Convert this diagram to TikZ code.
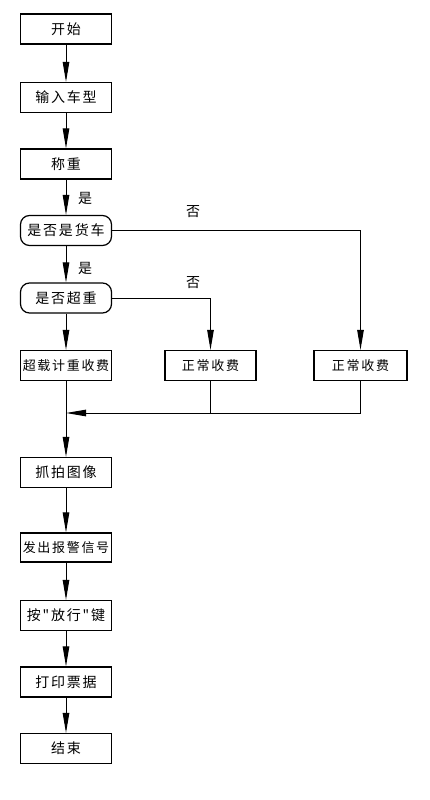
\documentclass[tikz,border=0pt]{standalone}
\usepackage{fontspec}
\newfontfamily\cjk[LetterSpace=13]{Noto Sans CJK SC}
\newfontfamily\cjkn{Noto Sans CJK SC}
\usetikzlibrary{arrows.meta}
\begin{document}
\begin{tikzpicture}[x=1pt,y=-1pt,
  box/.style={draw,line width=1.2pt,minimum width=91pt,minimum height=30pt,inner sep=0pt,font=\cjk\fontsize{14}{16}\selectfont},
  sbox/.style={box,font=\cjk\fontsize{13}{15}\selectfont},
  dec/.style={box,rounded corners=9pt},
  lbl/.style={font=\cjkn\fontsize{14}{16}\selectfont,inner sep=0pt},
  flow/.style={line width=1pt,-{Triangle[length=20pt,width=6.5pt]}},
  ln/.style={line width=1pt}]
\useasboundingbox (0,0) rectangle (429,800);
\node[box] (start) at (66,29) {开始};
\node[box] (input) at (66,97.5) {输入车型};
\node[box] (weigh) at (66,164) {称重};
\node[dec] (truck) at (66,230.5) {是否是货车};
\node[dec] (over) at (66,298) {是否超重};
\node[sbox] (fee1) at (66,365.5) {超载计重收费};
\node[sbox,minimum width=91pt] (fee2) at (210.5,365.5) {正常收费};
\node[sbox,minimum width=93pt] (fee3) at (360.5,365.5) {正常收费};
\node[box] (snap) at (66,472.5) {抓拍图像};
\node[sbox,minimum height=29pt] (alarm) at (66,547.5) {发出报警信号};
\node[box] (release) at (66,615.5) {按"放行"键};
\node[box] (print) at (66,682) {打印票据};
\node[box] (end) at (66,748.5) {结束};
\node[lbl] (yes1) at (85,198) {是};
\node[lbl] (yes2) at (85,268) {是};
\node[lbl] (no1) at (193,212) {否};
\node[lbl] (no2) at (193,283) {否};
\coordinate (c3) at (fee3.north |- truck.east);
\coordinate (c2) at (fee2.north |- over.east);
\coordinate (m3) at (fee3.south |- 0,413);
\coordinate (m2) at (fee2.south |- 0,413);
\coordinate (m1) at (fee1.south |- 0,413);
\draw[flow] (start) -- (input);
\draw[flow] (input) -- (weigh);
\draw[flow] (weigh) -- (truck);
\draw[flow] (truck) -- (over);
\draw[flow] (over) -- (fee1);
\draw[flow] (truck.east) -- (c3) -- (fee3.north);
\draw[flow] (over.east) -- (c2) -- (fee2.north);
\draw[flow] (fee3.south) -- (m3) -- (m1);
\draw[ln] (fee2.south) -- (m2);
\draw[flow] (fee1) -- (snap);
\draw[flow] (snap) -- (alarm);
\draw[flow] (alarm) -- (release);
\draw[flow] (release) -- (print);
\draw[flow] (print) -- (end);
\end{tikzpicture}
\end{document}
